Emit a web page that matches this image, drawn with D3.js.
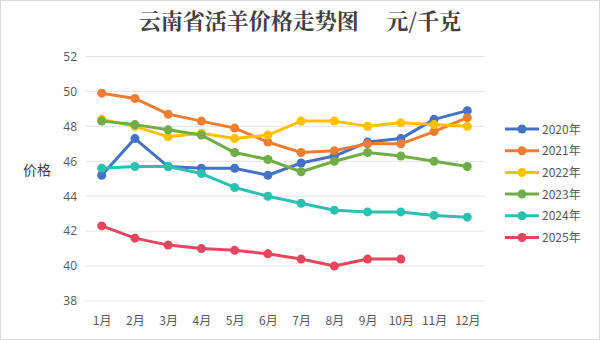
<!DOCTYPE html>
<html><head><meta charset="utf-8">
<script src="https://cdn.jsdelivr.net/npm/d3@7"></script>
<style>body{margin:0;background:#fff}svg{display:block}</style>
</head><body>
<script>
const months = ["1月","2月","3月","4月","5月","6月","7月","8月","9月","10月","11月","12月"];
const years = ["2020年","2021年","2022年","2023年","2024年","2025年"];
const yTicks = [38,40,42,44,46,48,50,52];
const s2020 = [45.2,47.3,45.7,45.6,45.6,45.2,45.9,46.3,47.1,47.3,48.4,48.9];
const s2021 = [49.9,49.6,48.7,48.3,47.9,47.1,46.5,46.6,47.0,47.0,47.7,48.5];
const s2022 = [48.4,48.0,47.4,47.6,47.3,47.5,48.3,48.3,48.0,48.2,48.1,48.0];
const s2023 = [48.3,48.1,47.8,47.5,46.5,46.1,45.4,46.0,46.5,46.3,46.0,45.7];
const s2024 = [45.6,45.7,45.7,45.3,44.5,44.0,43.6,43.2,43.1,43.1,42.9,42.8];
const s2025 = [42.3,41.6,41.2,41.0,40.9,40.7,40.4,40.0,40.4,40.4];
const colors = ["#4472C4","#ED7D31","#FFC000","#70AD47","#2BC0B0","#E5465E"];
const series = [s2020,s2021,s2022,s2023,s2024,s2025];

const W=600,H=340;
const svg=d3.select("body").append("svg").attr("width",W).attr("height",H);
svg.append("rect").attr("x",0.5).attr("y",0.5).attr("width",W-1).attr("height",H-1)
  .attr("fill","#fff").attr("stroke","#d9d9d9");

const x=d3.scalePoint().domain(months).range([101.7,467.3]);
const y=d3.scaleLinear().domain([38,52]).range([301,56.5]);

// grid
svg.append("g").selectAll("line").data(yTicks).join("line")
  .attr("x1",85).attr("x2",485).attr("y1",d=>y(d)).attr("y2",d=>y(d))
  .attr("stroke","#e3e3e3").attr("stroke-width",1);

// y axis
const ya=svg.append("g").attr("transform","translate(77,0)")
  .call(d3.axisLeft(y).tickValues(yTicks).tickSize(0).tickPadding(0));
ya.select(".domain").remove();
ya.selectAll("text").attr("fill","#595959").style("font-size","12px").style("font-family","'Open Sans','Noto Sans',sans-serif");

// x axis
const xa=svg.append("g").attr("transform","translate(0,316)")
  .call(d3.axisBottom(x).tickSize(0).tickPadding(0));
xa.select(".domain").remove();
xa.selectAll("text").attr("fill","#595959").style("font-size","12px").style("font-family","'Noto Sans CJK SC',sans-serif");

// title
svg.append("text").attr("x",300).attr("y",29).attr("text-anchor","middle")
  .attr("fill","#404040").style("font-size","22px").style("font-weight","bold")
  .style("font-family","'Noto Serif CJK SC','Noto Sans CJK SC',serif")
  .attr("xml:space","preserve").text("云南省活羊价格走势图     元/千克");

// y label
svg.append("text").attr("x",37).attr("y",175).attr("text-anchor","middle")
  .attr("fill","#404040").style("font-size","14px")
  .style("font-family","'Noto Sans CJK SC',sans-serif").text("价格");

const line=d3.line().x((d,i)=>x(months[i])).y(d=>y(d));
series.forEach((s,k)=>{
  const g=svg.append("g");
  g.append("path").attr("d",line(s)).attr("fill","none").attr("stroke",colors[k])
    .attr("stroke-width",3).attr("stroke-linejoin","round");
  g.selectAll("circle").data(s).join("circle")
    .attr("cx",(d,i)=>x(months[i])).attr("cy",d=>y(d)).attr("r",4.5).attr("fill",colors[k]);
});

// legend
const lg=svg.append("g");
years.forEach((yr,k)=>{
  const cy=129+k*21.7;
  lg.append("line").attr("x1",505).attr("x2",539).attr("y1",cy).attr("y2",cy)
    .attr("stroke",colors[k]).attr("stroke-width",3);
  lg.append("circle").attr("cx",522).attr("cy",cy).attr("r",4.5).attr("fill",colors[k]);
  lg.append("text").attr("x",542).attr("y",cy+4.5).attr("fill","#595959")
    .style("font-size","12px").style("font-family","'Noto Sans CJK SC',sans-serif").text(yr);
});
</script>
</body></html>
